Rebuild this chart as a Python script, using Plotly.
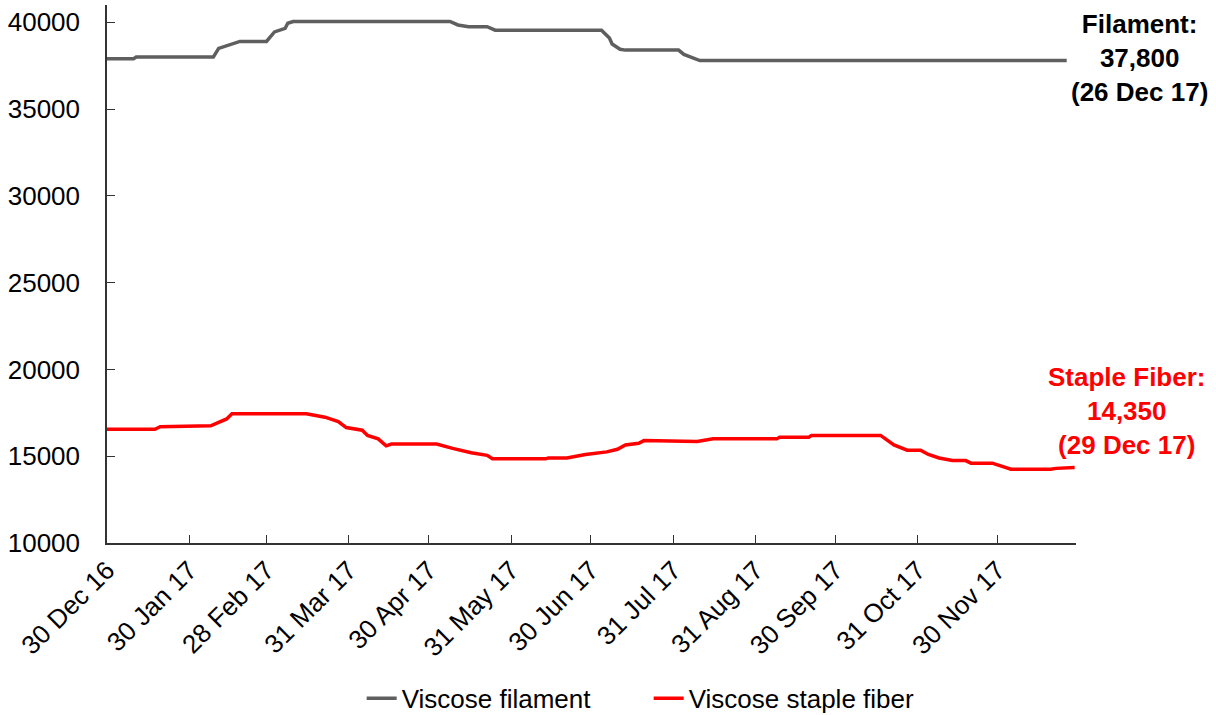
import plotly.graph_objects as go

filament_dates = ["2016-12-30", "2017-01-09", "2017-01-10", "2017-02-08", "2017-02-10", "2017-02-14",
                  "2017-02-17", "2017-02-18", "2017-02-28", "2017-03-03", "2017-03-07", "2017-03-08",
                  "2017-03-10", "2017-05-08", "2017-05-11", "2017-05-15", "2017-05-22", "2017-05-25",
                  "2017-07-04", "2017-07-07", "2017-07-08", "2017-07-11", "2017-07-13", "2017-08-02",
                  "2017-08-04", "2017-08-07", "2017-08-10", "2017-12-26"]
filament_values = [37900, 37900, 38000, 38000, 38500, 38700,
                   38850, 38900, 38900, 39450, 39650, 39950,
                   40050, 40050, 39850, 39750, 39750, 39550,
                   39550, 39100, 38750, 38450, 38400, 38400,
                   38150, 37950, 37800, 37800]

staple_dates = ["2016-12-30", "2017-01-17", "2017-01-19", "2017-02-07", "2017-02-13", "2017-02-15",
                "2017-03-15", "2017-03-22", "2017-03-27", "2017-03-30", "2017-04-05", "2017-04-07",
                "2017-04-11", "2017-04-14", "2017-04-16", "2017-05-03", "2017-05-09", "2017-05-16",
                "2017-05-22", "2017-05-24", "2017-06-13", "2017-06-14", "2017-06-21", "2017-06-28",
                "2017-07-06", "2017-07-10", "2017-07-13", "2017-07-18", "2017-07-20", "2017-08-04",
                "2017-08-09", "2017-08-15", "2017-09-08", "2017-09-09", "2017-09-20", "2017-09-21",
                "2017-10-17", "2017-10-22", "2017-10-27", "2017-11-01", "2017-11-04", "2017-11-08",
                "2017-11-13", "2017-11-18", "2017-11-20", "2017-11-28", "2017-12-02", "2017-12-05",
                "2017-12-20", "2017-12-22", "2017-12-29"]
staple_values = [16550, 16550, 16700, 16750, 17150, 17450,
                 17450, 17250, 17000, 16650, 16500, 16200,
                 16000, 15600, 15700, 15700, 15450, 15200,
                 15050, 14850, 14850, 14900, 14900, 15100,
                 15250, 15400, 15650, 15750, 15900, 15900,
                 15850, 16000, 16000, 16100, 16100, 16200,
                 16200, 15650, 15350, 15350, 15100, 14900,
                 14750, 14750, 14600, 14600, 14400, 14250,
                 14250, 14300, 14350]

tick_dates = ["2016-12-30", "2017-01-30", "2017-02-28", "2017-03-31", "2017-04-30", "2017-05-31",
              "2017-06-30", "2017-07-31", "2017-08-31", "2017-09-30", "2017-10-31", "2017-11-30"]
tick_labels = ["30 Dec 16", "30 Jan 17", "28 Feb 17", "31 Mar 17", "30 Apr 17", "31 May 17",
               "30 Jun 17", "31 Jul 17", "31 Aug 17", "30 Sep 17", "31 Oct 17", "30 Nov 17"]
y_ticks = [10000, 15000, 20000, 25000, 30000, 35000, 40000]

FONT = "Liberation Sans, Arial, sans-serif"
FS = 26

fig = go.Figure()
fig.add_trace(go.Scatter(x=filament_dates, y=filament_values, mode="lines",
                         name="Viscose filament", line=dict(color="#5f5f5f", width=3.5)))
fig.add_trace(go.Scatter(x=staple_dates, y=staple_values, mode="lines",
                         name="Viscose staple fiber", line=dict(color="#ff0000", width=3.5)))

fig.update_layout(
    width=1216, height=715,
    margin=dict(l=107, r=140, t=5, b=172, autoexpand=False),
    paper_bgcolor="white", plot_bgcolor="white",
    font=dict(family=FONT, size=FS, color="black"),
    showlegend=True,
    legend=dict(orientation="h", x=0.559, xanchor="center", y=-0.245, yanchor="top",
                entrywidth=242, entrywidthmode="pixels",
                font=dict(size=FS, color="black"), bgcolor="rgba(0,0,0,0)"),
    xaxis=dict(type="date", range=["2016-12-30", "2017-12-29 12:00"], automargin=False,
               tickvals=tick_dates, ticktext=tick_labels, tickangle=-45,
               ticks="inside", ticklen=8, tickcolor="#333", tickwidth=1.3,
               showline=True, linecolor="#333", linewidth=1.5, showgrid=False, zeroline=False,
               tickfont=dict(size=FS, color="black")),
    yaxis=dict(range=[10000, 41000], tickvals=y_ticks, tickformat="d", automargin=False,
               ticks="inside", ticklen=8, tickcolor="#333", tickwidth=1.3,
               showline=True, linecolor="#333", linewidth=1.5, showgrid=False, zeroline=False,
               ticklabelstandoff=20, tickfont=dict(size=FS, color="black")),
)

fig.add_annotation(xref="paper", yref="paper", x=1.066, y=0.902, xanchor="center", yanchor="middle",
                   text="<b>Filament:<br>37,800<br>(26 Dec 17)</b>", showarrow=False,
                   font=dict(family=FONT, size=FS, color="black"), align="center")
fig.add_annotation(xref="paper", yref="paper", x=1.052, y=0.245, xanchor="center", yanchor="middle",
                   text="<b>Staple Fiber:<br>14,350<br>(29 Dec 17)</b>", showarrow=False,
                   font=dict(family=FONT, size=FS, color="#ff0000"), align="center")

fig.write_html("out.html", config={"displayModeBar": False},
               post_script="document.body.style.margin='0';document.body.style.overflow='hidden';")
